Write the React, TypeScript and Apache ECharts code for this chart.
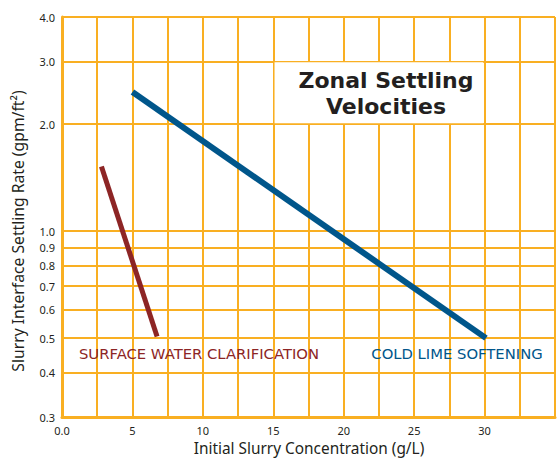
import React, { useEffect, useRef } from "react";
import * as echarts from "echarts";

const xTickValues = [0, 5, 10, 15, 20, 25, 30];
const yTickValues = [0.3, 0.4, 0.5, 0.6, 0.7, 0.8, 0.9, 1.0, 2.0, 3.0, 4.0];
const coldLimeSoftening: [number, number][] = [
  [5, 2.46],
  [30.1, 0.5],
];
const surfaceWaterClarification: [number, number][] = [
  [2.8, 1.52],
  [6.75, 0.505],
];
const titleBox = { x0: 15, x1: 30, y0: 3.0, y1: 2.0 };

const GRID = "#F9AF22";

export default function App() {
  const ref = useRef<HTMLDivElement>(null);
  useEffect(() => {
    if (!ref.current) return;
    const chart = echarts.init(ref.current, null, { renderer: "svg" });
    chart.setOption({
      animation: false,
      backgroundColor: "#ffffff",
      grid: { left: 62, right: -2, top: 17, bottom: 41, containLabel: false },
      xAxis: {
        type: "value",
        min: 0,
        max: 35,
        interval: 2.5,
        axisLine: { show: true, onZero: false, lineStyle: { color: GRID, width: 3 } },
        axisTick: { show: false },
        splitLine: { show: true, lineStyle: { color: GRID, width: 2 } },
        axisLabel: {
          color: "#231f20",
          fontFamily: "Noto Sans",
          fontSize: 11,
          margin: 8,
          formatter: (v: number) =>
            xTickValues.includes(v) ? (v === 0 ? "0.0" : String(v)) : "",
        },
      },
      yAxis: {
        type: "log",
        logBase: 10,
        min: 0.3,
        max: 4,
        axisLine: { show: true, lineStyle: { color: GRID, width: 3 } },
        axisTick: { show: false, customValues: yTickValues },
        splitLine: { show: true, lineStyle: { color: GRID, width: 2 } },
        axisLabel: {
          customValues: yTickValues,
          color: "#231f20",
          fontFamily: "Noto Sans",
          fontSize: 11,
          margin: 7,
          formatter: (v: number) => v.toFixed(1),
        },
      },
      series: [
        {
          type: "line",
          data: [],
          silent: true,
          markArea: {
            silent: true,
            itemStyle: { color: "#ffffff", opacity: 1 },
            data: [
              [
                { coord: [titleBox.x0 + 0.09, titleBox.y0 - 0.015] },
                { coord: [titleBox.x1 - 0.09, titleBox.y1 + 0.01] },
              ],
            ],
          },
        },
        {
          type: "line",
          data: coldLimeSoftening,
          symbol: "none",
          lineStyle: { color: "#00568B", width: 6, cap: "butt" },
          z: 5,
        },
        {
          type: "line",
          data: surfaceWaterClarification,
          symbol: "none",
          lineStyle: { color: "#8D2525", width: 5, cap: "butt" },
          z: 5,
        },
      ],
      graphic: [
        {
          type: "text",
          x: 386,
          y: 93,
          z: 10,
          style: {
            text: "Zonal Settling\nVelocities",
            fontFamily: "DejaVu Sans",
            fontWeight: "bold",
            fontSize: 22,
            lineHeight: 26,
            fill: "#231f20",
            align: "center",
            verticalAlign: "middle",
          },
        },
        {
          type: "text",
          x: 199,
          y: 353,
          z: 10,
          style: {
            text: "SURFACE WATER CLARIFICATION",
            fontFamily: "DejaVu Sans",
            fontSize: 14.8,
            fill: "#8D2525",
            align: "center",
            verticalAlign: "middle",
          },
        },
        {
          type: "text",
          x: 457,
          y: 353,
          z: 10,
          style: {
            text: "COLD LIME SOFTENING",
            fontFamily: "DejaVu Sans",
            fontSize: 14.8,
            fill: "#00568B",
            align: "center",
            verticalAlign: "middle",
          },
        },
        {
          type: "text",
          x: 18,
          y: 231,
          rotation: Math.PI / 2,
          z: 10,
          style: {
            text: "Slurry Interface Settling Rate (gpm/ft²)",
            fontFamily: "Noto Sans",
            fontSize: 15.7,
            fill: "#231f20",
            align: "center",
            verticalAlign: "middle",
          },
        },
        {
          type: "text",
          x: 309,
          y: 448,
          z: 10,
          style: {
            text: "Initial Slurry Concentration (g/L)",
            fontFamily: "Noto Sans",
            fontSize: 15.4,
            lineHeight: 15.4,
            fill: "#231f20",
            align: "center",
            verticalAlign: "middle",
          },
        },
      ],
    });
    return () => chart.dispose();
  }, []);
  return (
    <div
      ref={ref}
      style={{ width: 558, height: 458, position: "absolute", left: 0, top: 0 }}
    />
  );
}
